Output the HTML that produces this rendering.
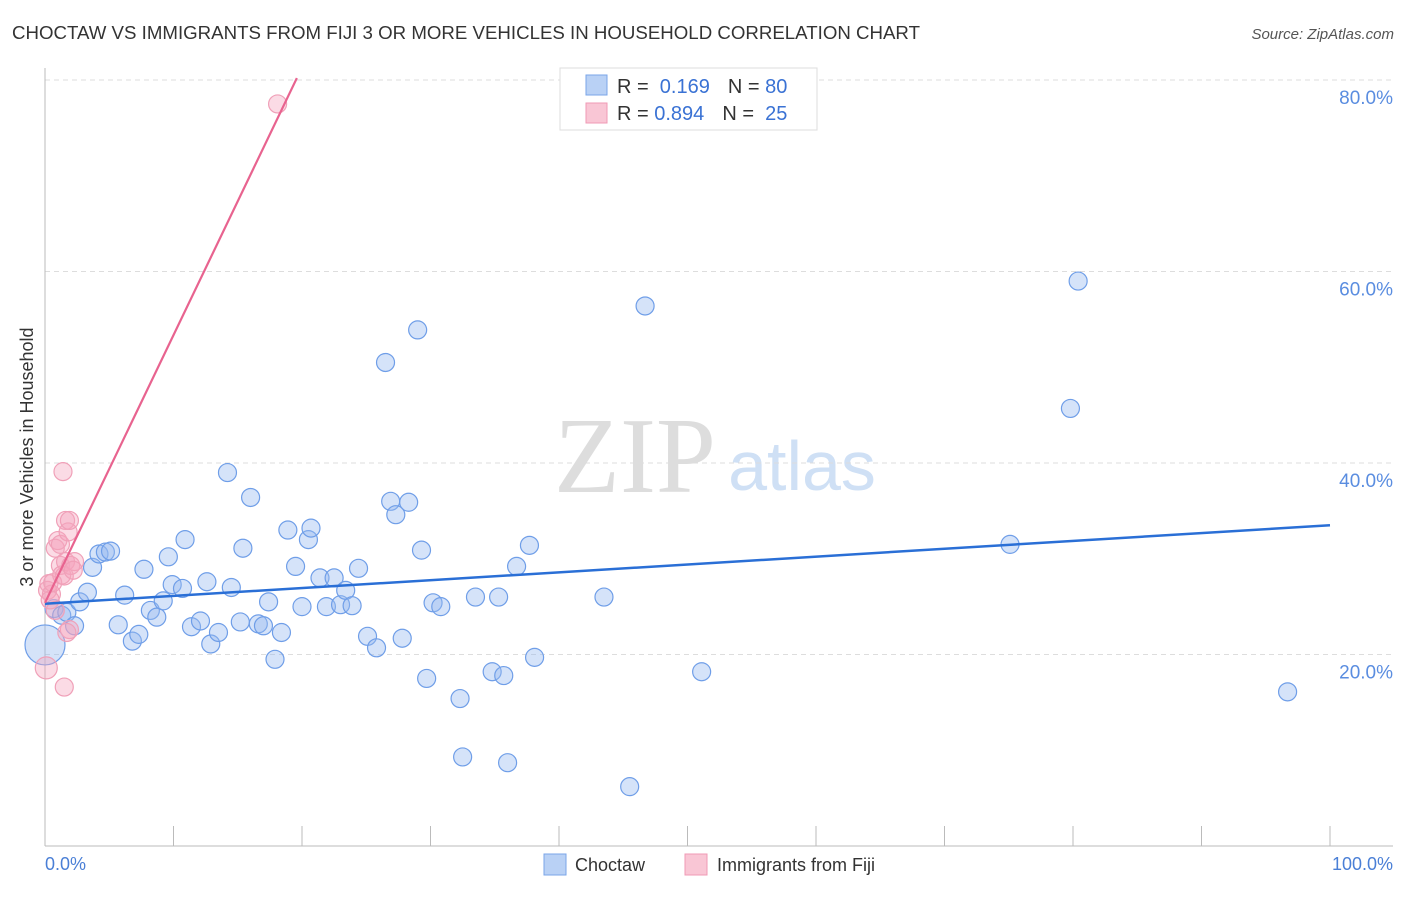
<!DOCTYPE html>
<html><head><meta charset="utf-8"><style>
body{margin:0;background:#fff;font-family:"Liberation Sans",sans-serif}
</style></head><body>
<svg width="1406" height="892" xmlns="http://www.w3.org/2000/svg" font-family="Liberation Sans, sans-serif">
<text x="12" y="39" font-size="18" fill="#333" textLength="908" lengthAdjust="spacingAndGlyphs">CHOCTAW VS IMMIGRANTS FROM FIJI 3 OR MORE VEHICLES IN HOUSEHOLD CORRELATION CHART</text>
<text x="1394" y="39" font-size="15" font-style="italic" fill="#555" text-anchor="end">Source: ZipAtlas.com</text>
<text x="635" y="492" font-size="108" font-family="Liberation Serif, serif" fill="#ddd" text-anchor="middle">ZIP</text>
<text x="802" y="490" font-size="70" fill="#cfe0f5" text-anchor="middle">atlas</text>
<g id="grid"></g>
<g id="axes"></g>
<g id="pts"></g>
<g id="trend"></g>
<text transform="translate(33,457) rotate(-90)" font-size="18" fill="#333" text-anchor="middle">3 or more Vehicles in Household</text>
<text x="45" y="870" font-size="18" fill="#4a7fd6">0.0%</text>
<text x="1393" y="870" font-size="18" fill="#4a7fd6" text-anchor="end">100.0%</text>
<g>
<rect x="560" y="68" width="257" height="62" fill="#fff" stroke="#ddd"/>
<rect x="586" y="75" width="21" height="20" fill="#b9d1f5" stroke="#7aa5e8"/>
<rect x="586" y="103" width="21" height="20" fill="#f9c6d5" stroke="#f09ab5"/>
<text x="617" y="93" font-size="20" fill="#333">R = <tspan fill="#3a72d4">&#160;0.169</tspan><tspan dx="18">N = </tspan><tspan fill="#3a72d4">80</tspan></text>
<text x="617" y="120" font-size="20" fill="#333">R = <tspan fill="#3a72d4">0.894</tspan><tspan dx="18">N = </tspan><tspan fill="#3a72d4">&#160;25</tspan></text>
</g>
<g>
<rect x="544" y="854" width="22" height="21" fill="#b9d1f5" stroke="#7aa5e8"/>
<text x="575" y="871" font-size="18" fill="#333">Choctaw</text>
<rect x="685" y="854" width="22" height="21" fill="#f9c6d5" stroke="#f09ab5"/>
<text x="717" y="871" font-size="18" fill="#333">Immigrants from Fiji</text>
</g>
</svg>
<script>
const yTicks=[20,40,60,80];
const xTicks=[0,10,20,30,40,50,60,70,80,90,100];
const blueX=[0.7,1.3,1.7,2.7,2.3,3.3,3.7,4.2,4.7,5.1,5.7,6.2,6.8,7.3,7.7,8.2,8.7,9.2,9.6,9.9,10.7,10.9,11.4,12.1,12.6,12.9,13.5,14.2,14.5,15.2,15.4,16.0,16.6,17.0,17.4,17.9,18.4,18.9,19.5,20.0,20.5,20.7,21.4,21.9,22.5,23.0,23.4,23.9,24.4,25.1,25.8,26.5,26.9,27.3,27.8,28.3,29.0,29.3,29.7,30.2,30.8,32.3,32.5,33.5,34.8,35.3,35.7,36.0,36.7,37.7,38.1,43.5,45.5,46.7,51.1,75.1,79.8,80.4,96.7,0];
const blueY=[24.8,24.1,24.4,25.5,23.0,26.5,29.1,30.5,30.7,30.8,23.1,26.2,21.4,22.1,28.9,24.6,23.9,25.6,30.2,27.3,26.9,32.0,22.9,23.5,27.6,21.1,22.3,39.0,27.0,23.4,31.1,36.4,23.2,23.0,25.5,19.5,22.3,33.0,29.2,25.0,32.0,33.2,28.0,25.0,28.0,25.2,26.7,25.1,29.0,21.9,20.7,50.5,36.0,34.6,21.7,35.9,53.9,30.9,17.5,25.4,25.0,15.4,9.3,26.0,18.2,26.0,17.8,8.7,29.2,31.4,19.7,26.0,6.2,56.4,18.2,31.5,45.7,59.0,16.1,21.0];
const pinkX=[0.1,0.2,0.3,0.5,0.6,0.8,1.0,1.2,1.2,1.4,1.6,1.8,1.9,1.3,1.5,1.6,2.0,2.3,2.2,1.9,1.7,1.5,18.1,0.4,0.8];
const pinkY=[18.6,26.7,27.4,26.3,27.5,31.1,31.9,29.3,31.5,39.1,34.0,32.8,34.0,28.3,28.2,29.7,29.3,29.7,28.8,22.6,22.3,16.6,77.5,25.7,24.6];
const blueTrend=[25.3,33.5];
const pinkTrend=[25.4,80.2,19.6];
const X0=45,X1=1330,Y0=846,PX=(X1-X0)/100,PY=9.575;
const sx=v=>X0+v*PX, sy=v=>Y0-v*PY;
const NS="http://www.w3.org/2000/svg";
function mk(t,a,p){const e=document.createElementNS(NS,t);for(const k in a)e.setAttribute(k,a[k]);p.appendChild(e);return e;}
const grid=document.getElementById('grid'),axes=document.getElementById('axes'),pts=document.getElementById('pts'),trend=document.getElementById('trend');
yTicks.forEach(v=>{
 const l=mk('line',{x1:X0,x2:1393,y1:sy(v),y2:sy(v),stroke:'#ddd','stroke-dasharray':'5,4'},grid);
 
 
 const t=mk('text',{x:1393,y:sy(v)+24,'font-size':19,fill:'#5a8de0','text-anchor':'end'},grid);
 t.textContent=v.toFixed(1)+'%';
 
 
});
let a=mk('line',{x1:X0,x2:X0,y1:68,y2:Y0,stroke:'#bbb'},axes);


a=mk('line',{x1:X0,x2:1393,y1:Y0,y2:Y0,stroke:'#bbb'},axes);


xTicks.forEach(v=>{
 const l=mk('line',{x1:sx(v),x2:sx(v),y1:826,y2:Y0,stroke:'#bbb'},axes);
 
 
});
blueX.forEach((x,i)=>{
 const big=(i===blueX.length-1);
 const c=mk('circle',{cx:sx(x),cy:sy(blueY[i]),r:big?20:9,fill:'rgba(150,185,240,0.4)',stroke:'#6f9ee8','stroke-width':1.2},pts);
 
 
});
pinkX.forEach((x,i)=>{
 const c=mk('circle',{cx:sx(x),cy:sy(pinkY[i]),r:i===0?11:9,fill:'rgba(245,165,190,0.4)',stroke:'#f0a0b8','stroke-width':1.2},pts);
 
 
});
let t=mk('line',{x1:sx(0),y1:sy(blueTrend[0]),x2:sx(100),y2:sy(blueTrend[1]),stroke:'#2a6fd6','stroke-width':2.5},trend);


t=mk('line',{x1:sx(0),y1:sy(pinkTrend[0]),x2:sx(pinkTrend[2]),y2:sy(pinkTrend[1]),stroke:'#e8638f','stroke-width':2.2},trend);


</script>
</body></html>
